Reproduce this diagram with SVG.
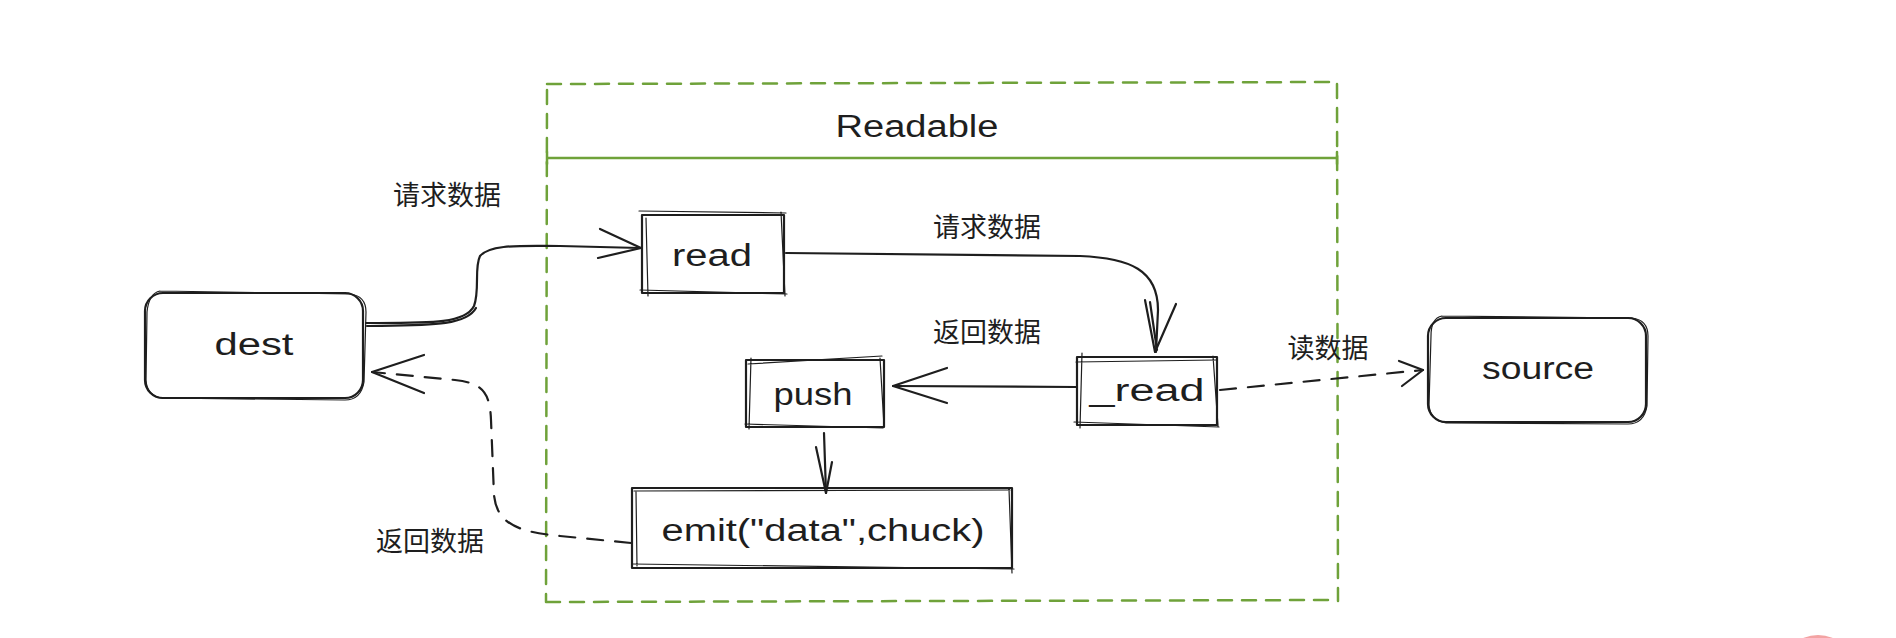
<svg xmlns="http://www.w3.org/2000/svg" width="1896" height="638" viewBox="0 0 1896 638">
<style>
.box{fill:none;stroke:#1e1e1e;stroke-width:2.2;stroke-linecap:round;stroke-linejoin:round}
.box2{fill:none;stroke:#1e1e1e;stroke-width:1.2;stroke-linecap:round}
.lbl{font-family:"Liberation Sans","Noto Sans",sans-serif;font-size:31px;fill:#1e1e1e;text-anchor:middle;dominant-baseline:central}
.cn{font-family:"Noto Sans CJK SC","Noto Sans",sans-serif;font-size:27px;fill:#1e1e1e;text-anchor:middle;dominant-baseline:central}
.con{fill:none;stroke:#1e1e1e;stroke-width:2.2;stroke-linecap:round;stroke-linejoin:round}
.dash{stroke-dasharray:16 12}
.green{fill:none;stroke:#6fa23a;stroke-width:2.5;stroke-linecap:round}
</style>
<rect width="1896" height="638" fill="#ffffff"/>
<circle cx="1818" cy="672" r="37" fill="#f3a3a3"/>

<g id="readable">
  <path class="green" stroke-dasharray="14 10" d="M547,84 L1336,82 M547,90 L546,602 M1337,84 L1338,601 M546,602 L1338,600"/>
  <path class="green" d="M547,158 L1337,158 M547,152 L547,164 M1337,152 L1337,164"/>
  <text class="lbl" x="917" y="126" textLength="163" lengthAdjust="spacingAndGlyphs">Readable</text>
</g>

<g id="dest">
  <rect class="box" x="145" y="293" width="218" height="105" rx="18"/>
  <path class="box2" d="M160,291 L350,294 Q366,296 366,312 L364,382 Q361,400 345,400 L162,398 Q147,396 146,380 L147,312 Q149,293 160,291"/>
  <text class="lbl" x="254" y="344" textLength="79" lengthAdjust="spacingAndGlyphs">dest</text>
</g>

<g id="read">
  <rect class="box" x="642" y="215" width="142" height="78"/>
  <path class="box2" d="M639,211 L786,213 M646,218 L648,296 M781,212 L785,296 M640,290 L787,294"/>
  <text class="lbl" x="712" y="255" textLength="80" lengthAdjust="spacingAndGlyphs">read</text>
</g>

<g id="_read">
  <rect class="box" x="1077" y="357" width="140" height="68"/>
  <path class="box2" d="M1076,362 L1216,360 M1082,353 L1080,428 M1213,356 L1218,426 M1074,422 L1219,427"/>
  <text class="lbl" x="1147" y="390" textLength="115" lengthAdjust="spacingAndGlyphs">_read</text>
</g>

<g id="push">
  <rect class="box" x="746" y="360" width="138" height="67"/>
  <path class="box2" d="M748,364 L882,356 M751,358 L749,429 M880,358 L884,426 M745,424 L883,428"/>
  <text class="lbl" x="813" y="394" textLength="79" lengthAdjust="spacingAndGlyphs">push</text>
</g>

<g id="emit">
  <rect class="box" x="632" y="488" width="380" height="80"/>
  <path class="box2" d="M634,491 L1010,490 M636,492 L637,566 M1009,489 L1012,573 M632,564 L1014,569"/>
  <text class="lbl" x="823" y="530" textLength="323" lengthAdjust="spacingAndGlyphs">emit("data",chuck)</text>
</g>

<g id="source">
  <rect class="box" x="1428" y="318" width="218" height="104" rx="18"/>
  <path class="box2" d="M1442,316 L1632,318 Q1648,320 1648,336 L1647,406 Q1644,424 1628,424 L1446,423 Q1430,420 1429,405 L1431,336 Q1431,318 1442,316"/>
  <text class="lbl" x="1538" y="368" textLength="112" lengthAdjust="spacingAndGlyphs">source</text>
</g>

<g id="connectors">
  <path class="con" d="M366,323 C430,323 465,324 474,306 C480,290 474,268 480,256 C490,244 520,246 560,246 L640,248"/>
  <path class="con" d="M367,326 C430,325 466,326 476,308" stroke-width="1.2"/>
  <path class="con" d="M600,229 L641,248 L598,258"/>

  <path class="con" d="M786,253 L1080,256 C1130,258 1158,270 1158,310 L1156,352"/>
  <path class="con" d="M1145,300 L1155,352 L1176,304 M1150,302 L1157,350"/>

  <path class="con" d="M1076,387 L893,386"/>
  <path class="con" d="M947,368 L893,386 L947,403"/>

  <path class="con" d="M824,433 L826,493"/>
  <path class="con" d="M816,447 L826,493 L832,462"/>

  <path class="con dash" d="M631,543 L560,536 C520,532 497,525 494,495 L491,420 C490,392 482,383 455,380 L372,372"/>
  <path class="con" d="M424,355 L372,372 L424,393"/>
  <text class="cn" x="430" y="539">返回数据</text>

  <path class="con dash" d="M1220,390 L1423,370"/>
  <path class="con" d="M1399,361 L1423,370 L1402,386"/>

  <text class="cn" x="447" y="193">请求数据</text>
  <text class="cn" x="987" y="225">请求数据</text>
  <text class="cn" x="987" y="330">返回数据</text>
  <text class="cn" x="1328" y="346">读数据</text>
</g>
</svg>
